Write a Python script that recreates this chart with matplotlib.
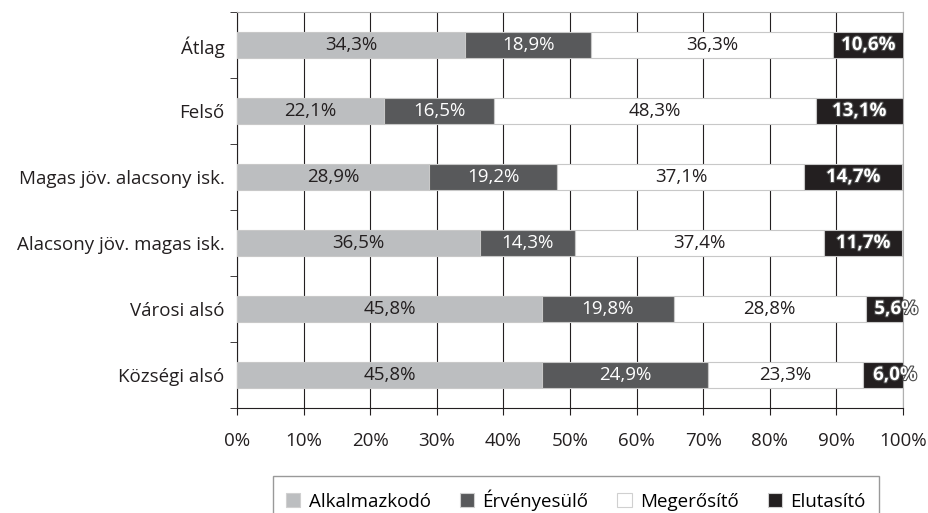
import numpy as np
import matplotlib
matplotlib.use('Agg')
import matplotlib.pyplot as plt
import matplotlib.patheffects as pe

plt.rcParams['font.family'] = ['Open Sans', 'DejaVu Sans']

categories = ['Átlag', 'Felső', 'Magas jöv. alacsony isk.', 'Alacsony jöv. magas isk.',
              'Városi alsó', 'Községi alsó']
series = ['Alkalmazkodó', 'Érvényesülő', 'Megerősítő', 'Elutasító']
alkalmazkodo = [34.3, 22.1, 28.9, 36.5, 45.8, 45.8]
ervenyesulo = [18.9, 16.5, 19.2, 14.3, 19.8, 24.9]
megerosito = [36.3, 48.3, 37.1, 37.4, 28.8, 23.3]
elutasito = [10.6, 13.1, 14.7, 11.7, 5.6, 6.0]
x_ticks = [0, 10, 20, 30, 40, 50, 60, 70, 80, 90, 100]

colors = ['#bcbec0', '#58595b', '#ffffff', '#231f20']
text_colors = ['#231f20', '#ffffff', '#231f20', '#ffffff']
fs = 13.5

fig = plt.figure(figsize=(9.29, 5.13), dpi=100)
ax = fig.add_axes([237/929, 105/513, 666/929, 396/513])

data = [alkalmazkodo, ervenyesulo, megerosito, elutasito]
y = np.arange(len(categories))
left = np.zeros(len(categories))
for i, vals in enumerate(data):
    vals = np.array(vals)
    ax.barh(y, vals, left=left, height=0.39, color=colors[i], edgecolor='#c8c8c8',
            linewidth=0.8, label=series[i], zorder=3)
    for j, v in enumerate(vals):
        lab = '{:.1f}%'.format(v).replace('.', ',')
        cx = left[j] + v / 2
        if i == 3:
            # small segments: label sticks out past the bar end
            if v < 8:
                cx += 1.8
            ax.text(cx, y[j], lab, ha='center', va='center', fontsize=fs,
                    color='white', fontweight='bold', zorder=5,
                    path_effects=[pe.withStroke(linewidth=1.6, foreground='#4a4a4a')])
        else:
            ax.text(cx, y[j], lab, ha='center', va='center', fontsize=fs,
                    color=text_colors[i], zorder=5)
    left += vals

ax.set_xlim(0, 100)
ax.set_ylim(len(categories) - 0.5, -0.5)
ax.set_xticks(x_ticks)
ax.set_xticklabels(['{}%'.format(t) for t in x_ticks], fontsize=fs, color='#231f20')
ax.set_yticks(y)
ax.set_yticklabels(categories, fontsize=fs, color='#231f20')
ax.set_yticks(np.arange(-0.5, len(categories)), minor=True)
ax.tick_params(axis='y', which='major', length=0, pad=9)
ax.tick_params(axis='y', which='minor', length=5, direction='out', color='#231f20')
ax.tick_params(axis='x', length=5, direction='out', color='#231f20', pad=12)

ax.grid(axis='x', color='#231f20', linewidth=0.8, zorder=0)
ax.set_axisbelow(True)
for s in ['top', 'right']:
    ax.spines[s].set_color('#b0b0b0')
for s in ['left', 'bottom']:
    ax.spines[s].set_color('#231f20')

leg = fig.legend(loc='upper center', bbox_to_anchor=(576/929, 1 - 476/513), ncol=4,
                 fontsize=fs, frameon=True, fancybox=False, edgecolor='#808080',
                 handlelength=0.75, handleheight=0.75, handletextpad=0.45,
                 columnspacing=1.55, borderpad=0.7, borderaxespad=0)
leg.get_frame().set_linewidth(1.0)
for h in leg.legend_handles:
    h.set_edgecolor('#d0d0d0')

fig.savefig('out.png', dpi=100)
